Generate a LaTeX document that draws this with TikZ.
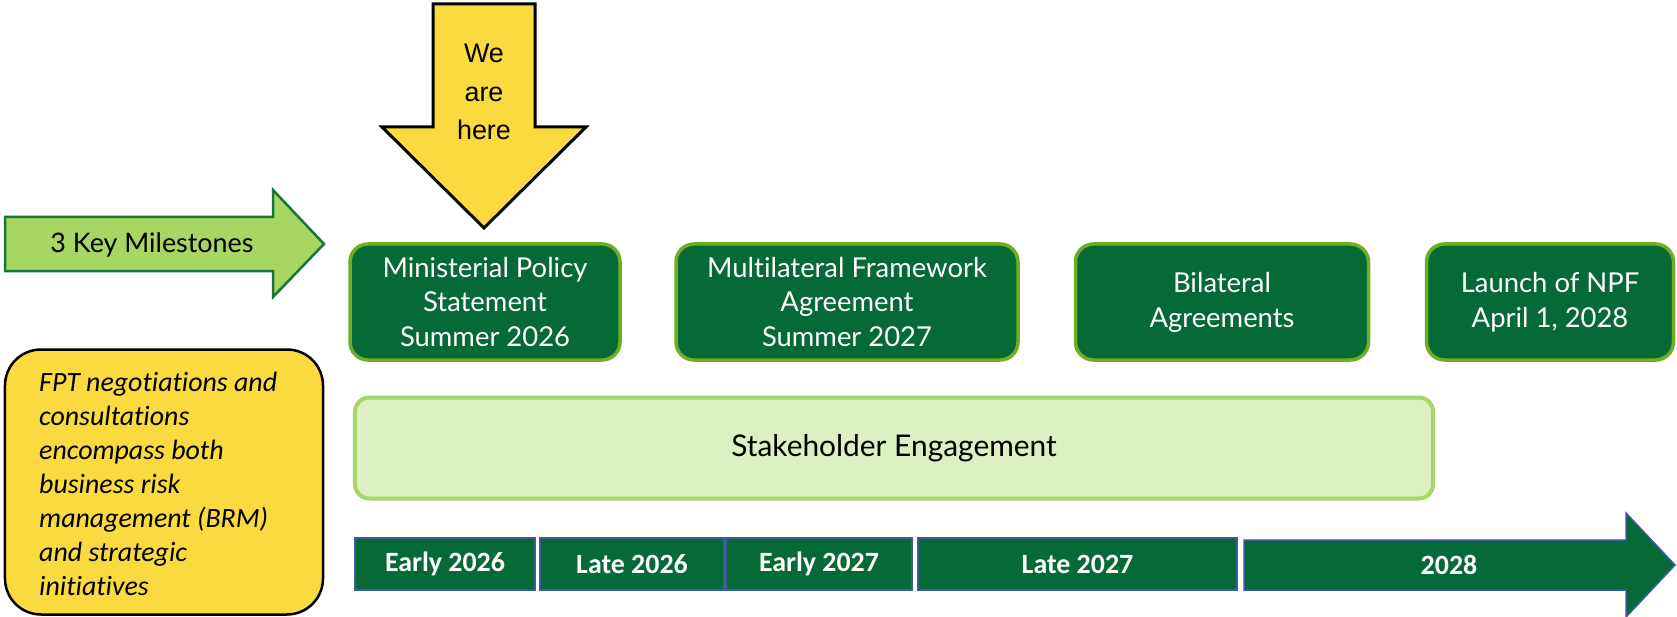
\documentclass[tikz,border=0pt]{standalone}
\usepackage{fontspec}
\setmainfont{Lato}[Ligatures=NoCommon]
\newfontfamily\arialf{Liberation Sans}
\newfontfamily\calf{Carlito}[Ligatures=NoCommon]
\definecolor{dkgreen}{HTML}{066A37}
\definecolor{ltgreen}{HTML}{6FAE22}
\definecolor{arrowgreen}{HTML}{A8D662}
\definecolor{arrowborder}{HTML}{1A7538}
\definecolor{ylw}{HTML}{FBDA40}
\definecolor{stakefill}{HTML}{DDF0C2}
\definecolor{stakeborder}{HTML}{A6D665}
\definecolor{tlblue}{HTML}{3B5B9B}
\tikzset{
  msbox/.style={draw=ltgreen, fill=dkgreen, line width=3.5bp, rounded corners=18bp,
    text=white, align=center, minimum height=116bp, inner sep=0pt,
    font=\fontsize{27.5}{35}\selectfont},
  tlseg/.style={draw=tlblue, fill=dkgreen, line width=1.5bp, text=white,
    minimum height=52bp, inner sep=0pt, font=\calf\bfseries\fontsize{28}{30}\selectfont},
}
\begin{document}
\begin{tikzpicture}[x=1bp,y=-1bp]
\useasboundingbox (0,0) rectangle (1677,617);

% key milestones arrow
\draw[fill=arrowgreen, draw=arrowborder, line width=2.5bp, line join=miter]
  (5,217) -- (273,217) -- (273,190) -- (324,244) -- (273,297) -- (273,271) -- (5,271) -- cycle;
\node[font=\fontsize{27}{30}\selectfont] (keyms) at (152,245) {3 Key Milestones};

% we are here arrow
\draw[fill=ylw, draw=black, line width=3bp, line join=miter]
  (433,4) -- (535,4) -- (535,127) -- (586,127) -- (484,228) -- (382,127) -- (433,127) -- cycle;
\node[align=center, font=\arialf\fontsize{27}{39}\selectfont] (here) at (484,92) {We\\are\\here};

% milestone boxes
\node[msbox, minimum width=270bp] (m1) at (485,302) {Ministerial Policy\\Statement\\Summer 2026};
\node[msbox, minimum width=342bp] (m2) at (847,302) {Multilateral Framework\\Agreement\\Summer 2027};
\node[msbox, minimum width=293bp] (m3) at (1222,302) {Bilateral\\Agreements};
\node[msbox, minimum width=247bp] (m4) at (1550,302) {Launch of NPF\\April 1, 2028};

% stakeholder engagement
\node[draw=stakeborder, fill=stakefill, line width=4bp, rounded corners=14bp,
  minimum width=1078bp, minimum height=101bp, inner sep=0pt,
  font=\fontsize{30}{32}\selectfont] (stake) at (894,448) {Stakeholder Engagement};

% FPT box
\node[draw=black, fill=ylw, line width=2.5bp, rounded corners=36bp,
  minimum width=318bp, minimum height=265bp, inner sep=0pt] (fpt) at (164,482) {};
\node[anchor=west, align=left, inner sep=0pt,
  font=\calf\itshape\fontsize{28}{34}\selectfont] (fpttext) at (39,484)
  {FPT negotiations and\\consultations\\encompass both\\business risk\\management (BRM)\\and strategic\\initiatives};

% timeline
\node[tlseg, minimum width=180bp] (t1) at (445,564) {Early 2026};
\node[tlseg, minimum width=184bp] (t2) at (632,564) {Late 2026};
\node[tlseg, minimum width=186bp] (t3) at (819,564) {Early 2027};
\node[tlseg, minimum width=319bp] (t4) at (1077.5,564) {Late 2027};
\draw[draw=tlblue, fill=dkgreen, line width=1.5bp, line join=miter]
  (1244,540) -- (1626,540) -- (1626,513) -- (1675,565) -- (1626,617) -- (1626,590) -- (1244,590) -- cycle;
\node[text=white, font=\calf\bfseries\fontsize{28}{30}\selectfont] (t5) at (1449,565) {2028};
\end{tikzpicture}
\end{document}
